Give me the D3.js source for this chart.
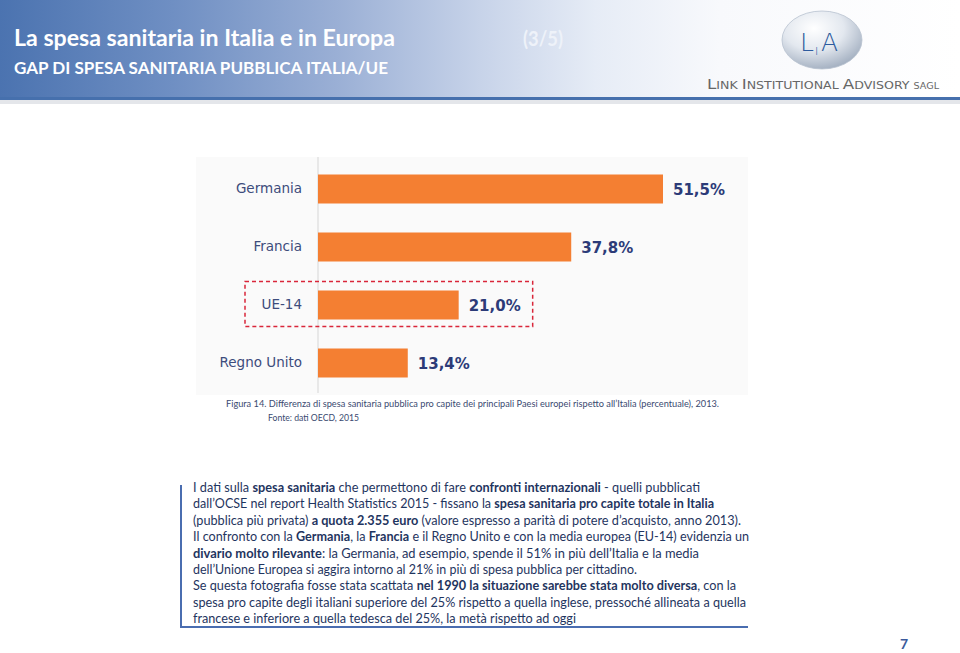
<!DOCTYPE html>
<html><head><meta charset="utf-8">
<script src="https://cdn.jsdelivr.net/npm/d3@7"></script>
<style>body{margin:0;background:#fff}svg{display:block}</style>
</head><body>
<script>
// ---- data ----
const categories = ["Germania", "Francia", "UE-14", "Regno Unito"];
const values = [51.5, 37.8, 21.0, 13.4];
const valueLabels = ["51,5%", "37,8%", "21,0%", "13,4%"];
const highlighted = ["UE-14"];
const title = "La spesa sanitaria in Italia e in Europa";
const subtitle = "GAP DI SPESA SANITARIA PUBBLICA ITALIA/UE";
const pageTag = "(3/5)";
const caption1 = "Figura 14. Differenza di spesa sanitaria pubblica pro capite dei principali Paesi europei  rispetto all\u2019Italia (percentuale), 2013.";
const caption2 = "Fonte: dati OECD, 2015";
const bodyLines = [
  [["I dati sulla ",0],["spesa sanitaria",1],[" che permettono di fare ",0],["confronti internazionali",1],[" - quelli pubblicati",0]],
  [["dall\u2019OCSE nel report Health Statistics 2015 - fissano la ",0],["spesa sanitaria pro capite totale in Italia",1]],
  [["(pubblica più privata) ",0],["a quota 2.355 euro",1],[" (valore espresso a parità di potere d\u2019acquisto, anno 2013).",0]],
  [["Il confronto con la ",0],["Germania",1],[", la ",0],["Francia",1],[" e il Regno Unito e con la media europea (EU-14) evidenzia un",0]],
  [["divario molto rilevante",1],[":  la Germania, ad esempio, spende il 51% in più dell\u2019Italia e la media",0]],
  [["dell\u2019Unione Europea si aggira intorno al 21% in più di spesa pubblica per cittadino.",0]],
  [["Se questa fotografia fosse stata scattata ",0],["nel 1990 la situazione sarebbe stata molto diversa",1],[", con la",0]],
  [["spesa pro capite degli italiani superiore del 25% rispetto a quella inglese, pressoché allineata a quella",0]],
  [["francese e inferiore a quella tedesca del 25%, la metà rispetto ad oggi",0]]
];
const bodyLineEnds = [700, 714, 741, 749, 699, 637, 736, 746, 576];
const pageNumber = "7";

const W = 960, H = 653;
const svg = d3.select("body").append("svg").attr("width", W).attr("height", H);
const defs = svg.append("defs");

// header gradient
const hg = defs.append("linearGradient").attr("id","hg").attr("x1","0").attr("x2","1").attr("y1","0").attr("y2","0");
[[0,"#4b73b0"],[0.18,"#6f8fc3"],[0.35,"#9aafd5"],[0.5,"#c7d3e9"],[0.62,"#e6ecf6"],[0.75,"#f8f9fc"],[1,"#ffffff"]]
  .forEach(([o,c])=>hg.append("stop").attr("offset",o).attr("stop-color",c));
svg.append("rect").attr("x",0).attr("y",0).attr("width",W).attr("height",98).attr("fill","url(#hg)");
svg.append("rect").attr("x",0).attr("y",100).attr("width",W).attr("height",4).attr("fill","#e4e6ea");
svg.append("rect").attr("x",0).attr("y",97).attr("width",W).attr("height",3).attr("fill","#4670ad");

svg.append("text").attr("x",14).attr("y",46).attr("fill","#fff")
  .attr("font-family","Lato, 'Open Sans', sans-serif").attr("font-weight",700).attr("font-size",23)
  .attr("textLength",381).attr("lengthAdjust","spacingAndGlyphs").text(title);
svg.append("text").attr("x",14).attr("y",74).attr("fill","#fff")
  .attr("font-family","Lato, 'Open Sans', sans-serif").attr("font-weight",700).attr("font-size",17.5)
  .attr("textLength",374).attr("lengthAdjust","spacingAndGlyphs").text(subtitle);
svg.append("text").attr("x",523).attr("y",46).attr("fill","#eef2f9")
  .attr("font-family","Lato, sans-serif").attr("font-weight",700).attr("font-size",20)
  .attr("textLength",40).attr("lengthAdjust","spacingAndGlyphs").text(pageTag);

// logo
const lg = defs.append("radialGradient").attr("id","lg").attr("cx","0.4").attr("cy","0.3").attr("r","0.75");
[[0,"#ffffff"],[0.5,"#e3e8ef"],[1,"#9eabbd"]].forEach(([o,c])=>lg.append("stop").attr("offset",o).attr("stop-color",c));
svg.append("ellipse").attr("cx",822).attr("cy",40).attr("rx",40).attr("ry",29).attr("fill","url(#lg)").attr("stroke","#b7c1cf").attr("stroke-width",0.8);
const logoFont = "'DejaVu Sans', sans-serif";
svg.append("text").attr("x",800).attr("y",51).attr("fill","#2d5b9e").attr("font-family",logoFont).attr("font-weight",300).attr("font-size",25).text("L");
svg.append("text").attr("x",815).attr("y",55).attr("fill","#2d5b9e").attr("font-family",logoFont).attr("font-weight",300).attr("font-size",11).text("I");
svg.append("text").attr("x",821).attr("y",51).attr("fill","#2d5b9e").attr("font-family",logoFont).attr("font-weight",300).attr("font-size",25).text("A");
const lia = svg.append("text").attr("x",707).attr("y",89).attr("fill","#666")
  .attr("font-family","'DejaVu Sans', sans-serif").attr("font-size",11.5)
  .attr("textLength",232).attr("lengthAdjust","spacingAndGlyphs");
[["L",14],["INK ",10.5],["I",14],["NSTITUTIONAL ",10.5],["A",14],["DVISORY ",10.5],["SAGL",8]]
  .forEach(([t,s])=>lia.append("tspan").attr("font-size",s).text(t));

// chart panel
svg.append("rect").attr("x",196).attr("y",157).attr("width",552).attr("height",238).attr("fill","#fafafa");

const x = d3.scaleLinear().domain([0, 51.5]).range([318, 663]);
const y = d3.scaleBand().domain(categories).range([160, 392]).paddingInner(0.5).paddingOuter(0.25);

svg.append("line").attr("x1",x(0)).attr("x2",x(0)).attr("y1",157).attr("y2",393).attr("stroke","#e2e2e2").attr("stroke-width",1.5);

const yAxis = d3.axisLeft(y).tickSize(0).tickPadding(16);
const ya = svg.append("g").attr("transform",`translate(${x(0)},0)`).call(yAxis);
ya.select(".domain").remove();
ya.selectAll("text").attr("font-family","'DejaVu Sans', Verdana, sans-serif").attr("font-size",13.5).attr("fill","#3d4c7c");

svg.selectAll("rect.bar").data(categories).join("rect").attr("class","bar")
  .attr("x",x(0)).attr("y",d=>y(d)).attr("height",y.bandwidth())
  .attr("width",(d,i)=>x(values[i])-x(0)).attr("fill","#f47f32");

svg.selectAll("text.val").data(categories).join("text").attr("class","val")
  .attr("x",(d,i)=>x(values[i])+10).attr("y",d=>y(d)+y.bandwidth()/2+6)
  .attr("font-family","'DejaVu Sans', Verdana, sans-serif").attr("font-weight",700).attr("font-size",15)
  .attr("fill","#2c3b78").text((d,i)=>valueLabels[i]);

highlighted.forEach(h=>{
  const i = categories.indexOf(h);
  svg.append("rect").attr("x",x(0)-73).attr("y",y(h)-9)
    .attr("width",x(values[i])+74-(x(0)-73)).attr("height",y.bandwidth()+16)
    .attr("fill","none").attr("stroke","#d9263a").attr("stroke-width",1.5).attr("stroke-dasharray","4,3");
});

// captions
svg.append("text").attr("x",226).attr("y",407).attr("fill","#3a4a70")
  .attr("font-family","Lato, sans-serif").attr("font-size",10)
  .attr("textLength",493).attr("lengthAdjust","spacingAndGlyphs").text(caption1);
svg.append("text").attr("x",268).attr("y",421).attr("fill","#3a4a70")
  .attr("font-family","Lato, sans-serif").attr("font-size",10)
  .attr("textLength",91).attr("lengthAdjust","spacingAndGlyphs").text(caption2);

// body text
bodyLines.forEach((segs,i)=>{
  const t = svg.append("text").attr("x",193).attr("y",Math.round(492+i*16.4)).attr("fill","#1f3560")
    .attr("font-family","Lato, sans-serif").attr("font-size",12.8)
    .attr("textLength",bodyLineEnds[i]-193).attr("lengthAdjust","spacingAndGlyphs");
  segs.forEach(([s,b])=>t.append("tspan").attr("font-weight",b?700:400).text(s));
});
svg.append("path").attr("d","M181,485 V627 H748").attr("fill","none").attr("stroke","#4a6db0").attr("stroke-width",2);

svg.append("text").attr("x",900).attr("y",649).attr("fill","#3b5a9c")
  .attr("font-family","Lato, sans-serif").attr("font-weight",700).attr("font-size",14).text(pageNumber);
</script>
</body></html>
